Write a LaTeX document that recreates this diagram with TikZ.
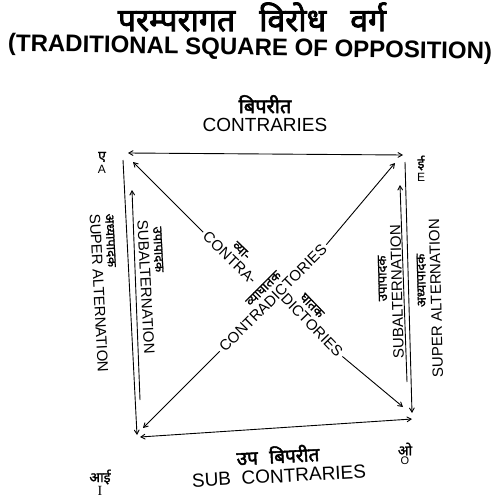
\documentclass[tikz,border=0pt]{standalone}
\usepackage{fontspec}
\usepackage{tikz}
\usetikzlibrary{positioning,calc,arrows}
\setmainfont{Liberation Sans}
\newfontfamily\hindi[Script=Devanagari,FakeBold=1.2]{Noto Sans}
\newfontfamily\hindib[Script=Devanagari,FakeBold=2.5]{Noto Sans}
\newfontfamily\serif{Liberation Serif}
\tikzstyle{eng}=[inner sep=0pt,outer sep=3pt,font=\fontsize{15}{15}\selectfont]
\tikzstyle{hin}=[inner sep=0pt,outer sep=1pt,font=\hindi\fontsize{13}{13}\selectfont]

\begin{document}
\begin{tikzpicture}[x=1pt,y=-1pt]
\tikzstyle{every path}=[line width=0.9pt]
\tikzstyle{arr}=[->,>=angle 60]
\tikzstyle{corner}=[inner sep=0pt,font=\hindi\fontsize{14}{14}\selectfont]
\useasboundingbox (0,0) rectangle (500,500);

% titles
\node (hTitle) at (252,17) [inner sep=0pt,font=\hindib\fontsize{32}{32}\selectfont] {परम्परागत\hspace{0.75em}विरोध\hspace{0.75em}वर्ग};
\node (eTitle) at (250,49) [inner sep=0pt,rotate=-1,font=\bfseries\fontsize{24}{24}\selectfont] {(TRADITIONAL SQUARE OF OPPOSITION)};

% contraries
\node (con) at (265,125) [inner sep=0pt,font=\fontsize{19}{19}\selectfont] {CONTRARIES};
\node (conH) [above=4pt of con,inner sep=0pt,font=\hindib\fontsize{20}{20}\selectfont] {बिपरीत};
\node (sub) at (279,476) [inner sep=0pt,rotate=3,font=\fontsize{19}{19}\selectfont] {SUB\ \ CONTRARIES};
\node (subH) at (sub.north) [anchor=south,rotate=3,yshift=5pt,inner sep=0pt,font=\hindib\fontsize{19}{19}\selectfont] {उप\hspace{0.6em}बिपरीत};

% corners
\node (cA) at (102,157) [corner] {ए};
\node (lA) [below=2pt of cA,inner sep=0pt,font=\fontsize{12}{12}\selectfont] {A};
\node (cE) at (421,163) [corner] {ई};
\node (lE) [below=2pt of cE,inner sep=0pt,font=\fontsize{12}{12}\selectfont] {E};
\node (cI) at (100,477) [corner] {आई};
\node (lI) [below=1pt of cI,inner sep=0pt,font=\serif\fontsize{14}{14}\selectfont] {I};
\node (cO) at (405,449) [corner] {ओ};
\node (lO) [below=1pt of cO,inner sep=0pt,font=\fontsize{11}{11}\selectfont] {O};

% end points
\coordinate (tA) at (128,153);
\coordinate (tE) at (403,155);
\coordinate (bI) at (140,437);
\coordinate (bO) at (412,419);
\coordinate (lo1) at (123,160);
\coordinate (lo2) at (137,435);
\coordinate (li1) at (132,190);
\coordinate (li2) at (140,400);
\coordinate (ro1) at (405,162);
\coordinate (ro2) at (412,413);
\coordinate (ri1) at (400,185);
\coordinate (ri2) at (407,382);
\coordinate (dA) at (133,162);
\coordinate (dE) at (395,163);
\coordinate (dI) at (143,428);
\coordinate (dO) at (403,407);

% sides
\node (supL) at (99,293) [eng,rotate=-87] {SUPER ALTERNATION};
\node (supLH) at (supL.north) [hin,anchor=south,rotate=-87,xshift=-52pt] {अध्यापादक};
\node (subL) at (146,287) [eng,rotate=-87] {SUBALTERNATION};
\node (subLH) at (subL.north) [hin,anchor=south,rotate=-87,xshift=-37pt] {उपापादक};
\node (subR) at (397,292) [eng,rotate=91.5] {SUBALTERNATION};
\node (subRH) at (subR.north) [hin,anchor=south,rotate=91.5,xshift=14pt] {उपापादक};
\node (supR) at (436,298) [eng,rotate=91.5] {SUPER ALTERNATION};
\node (supRH) at (supR.north) [hin,anchor=south,rotate=91.5,xshift=18pt] {अध्यापादक};

% diagonals
\node (ctra) at (230,258) [eng,rotate=-44] {CONTRA-};
\node (ctraH) at (ctra.north) [hin,anchor=south,rotate=-44,xshift=3pt] {व्या-};
\node (dict) at (312,325) [eng,rotate=-46] {DICTORIES};
\node (dictH) at (dict.north) [hin,anchor=south,rotate=-46,xshift=-14pt] {घातक};
\node (cd) at (273,298) [eng,rotate=45] {CONTRADICTORIES};
\node (cdH) at (cd.north) [hin,anchor=south,rotate=45] {व्याघातक};

\draw[arr,<->] (tA) -- (tE);
\draw[arr,<->] (bI) -- (bO);
\draw[arr] (lo1) -- (lo2);
\draw[arr] (li2) -- (li1);
\draw[arr] (ro1) -- (ro2);
\draw[arr] (ri2) -- (ri1);
\draw[arr] (ctra.west) -- (dA);
\draw[arr] (dict.east) -- (dO);
\draw[arr] (cd.west) -- (dI);
\draw[arr] (cd.east) -- (dE);
\end{tikzpicture}
\end{document}
